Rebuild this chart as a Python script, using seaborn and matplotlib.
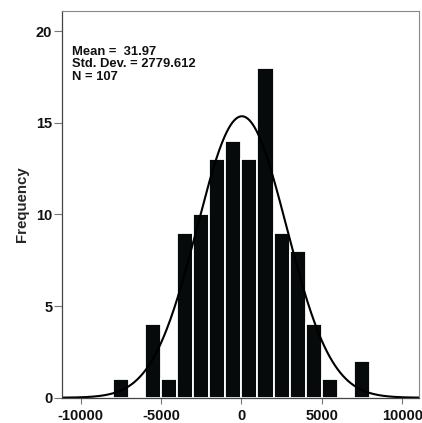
import numpy as np
import matplotlib
matplotlib.use("Agg")
import matplotlib.pyplot as plt
import seaborn as sns

# ----------------------------
# DATA
# ----------------------------
bin_edges = [-8000, -7000, -6000, -5000, -4000, -3000, -2000, -1000,
             0, 1000, 2000, 3000, 4000, 5000, 6000, 7000, 8000]
counts = [1, 0, 4, 1, 9, 10, 13, 14, 13, 18, 9, 8, 4, 1, 0, 2]
x_ticks = [-10000, -5000, 0, 5000, 10000]
y_ticks = [0, 5, 10, 15, 20]

mean = 31.97
std_dev = 2779.612
n_obs = 107
bin_width = 1000

bin_centers = [(a + b) / 2 for a, b in zip(bin_edges[:-1], bin_edges[1:])]

# ----------------------------
# STYLE
# ----------------------------
sns.set_style("white")
plt.rcParams["font.family"] = ["Liberation Sans", "DejaVu Sans"]
plt.rcParams["font.weight"] = "bold"

fig = plt.figure(figsize=(4.22, 4.23), dpi=100)
ax = fig.add_axes([0.147, 0.0598, 0.8466, 0.9142])

# ----------------------------
# HISTOGRAM + NORMAL CURVE
# ----------------------------
sns.histplot(x=bin_centers, weights=counts, bins=bin_edges, ax=ax,
             color="#070a0a", alpha=1, edgecolor="white", linewidth=1.3)

xs = np.linspace(-11200, 11200, 400)
ys = n_obs * bin_width * np.exp(-0.5 * ((xs - mean) / std_dev) ** 2) / (std_dev * np.sqrt(2 * np.pi))
sns.lineplot(x=xs, y=ys, ax=ax, color="black", linewidth=1.5)

ax.set_xlim(-11150, 11060)
ax.set_ylim(0, 21.1)
ax.set_xticks(x_ticks)
ax.set_yticks(y_ticks)
ax.set_xticklabels([str(t) for t in x_ticks], fontsize=10.5, fontweight="bold")
ax.set_yticklabels([str(t) for t in y_ticks], fontsize=10.5, fontweight="bold")
ax.tick_params(axis="both", direction="out", width=0.8, bottom=True, left=True,
               color="#777777", labelcolor="#111111")
ax.tick_params(axis="x", length=4, pad=4)
ax.tick_params(axis="y", length=5.5, pad=1.5)
ax.set_xlabel("")
ax.set_ylabel("Frequency", fontsize=10.8, fontweight="bold", labelpad=5)

for side in ["left", "bottom"]:
    ax.spines[side].set_color("#444444")
    ax.spines[side].set_linewidth(0.9)
for side in ["top", "right"]:
    ax.spines[side].set_color("#888888")
    ax.spines[side].set_linewidth(0.8)

ax.text(0.029, 0.909,
        "Mean =  %.2f\nStd. Dev. = %.3f\nN = %d" % (mean, std_dev, n_obs),
        transform=ax.transAxes, ha="left", va="top", fontsize=9.4,
        fontweight="bold", linespacing=1.02, color="#111111")

plt.savefig("out.png", dpi=100)
